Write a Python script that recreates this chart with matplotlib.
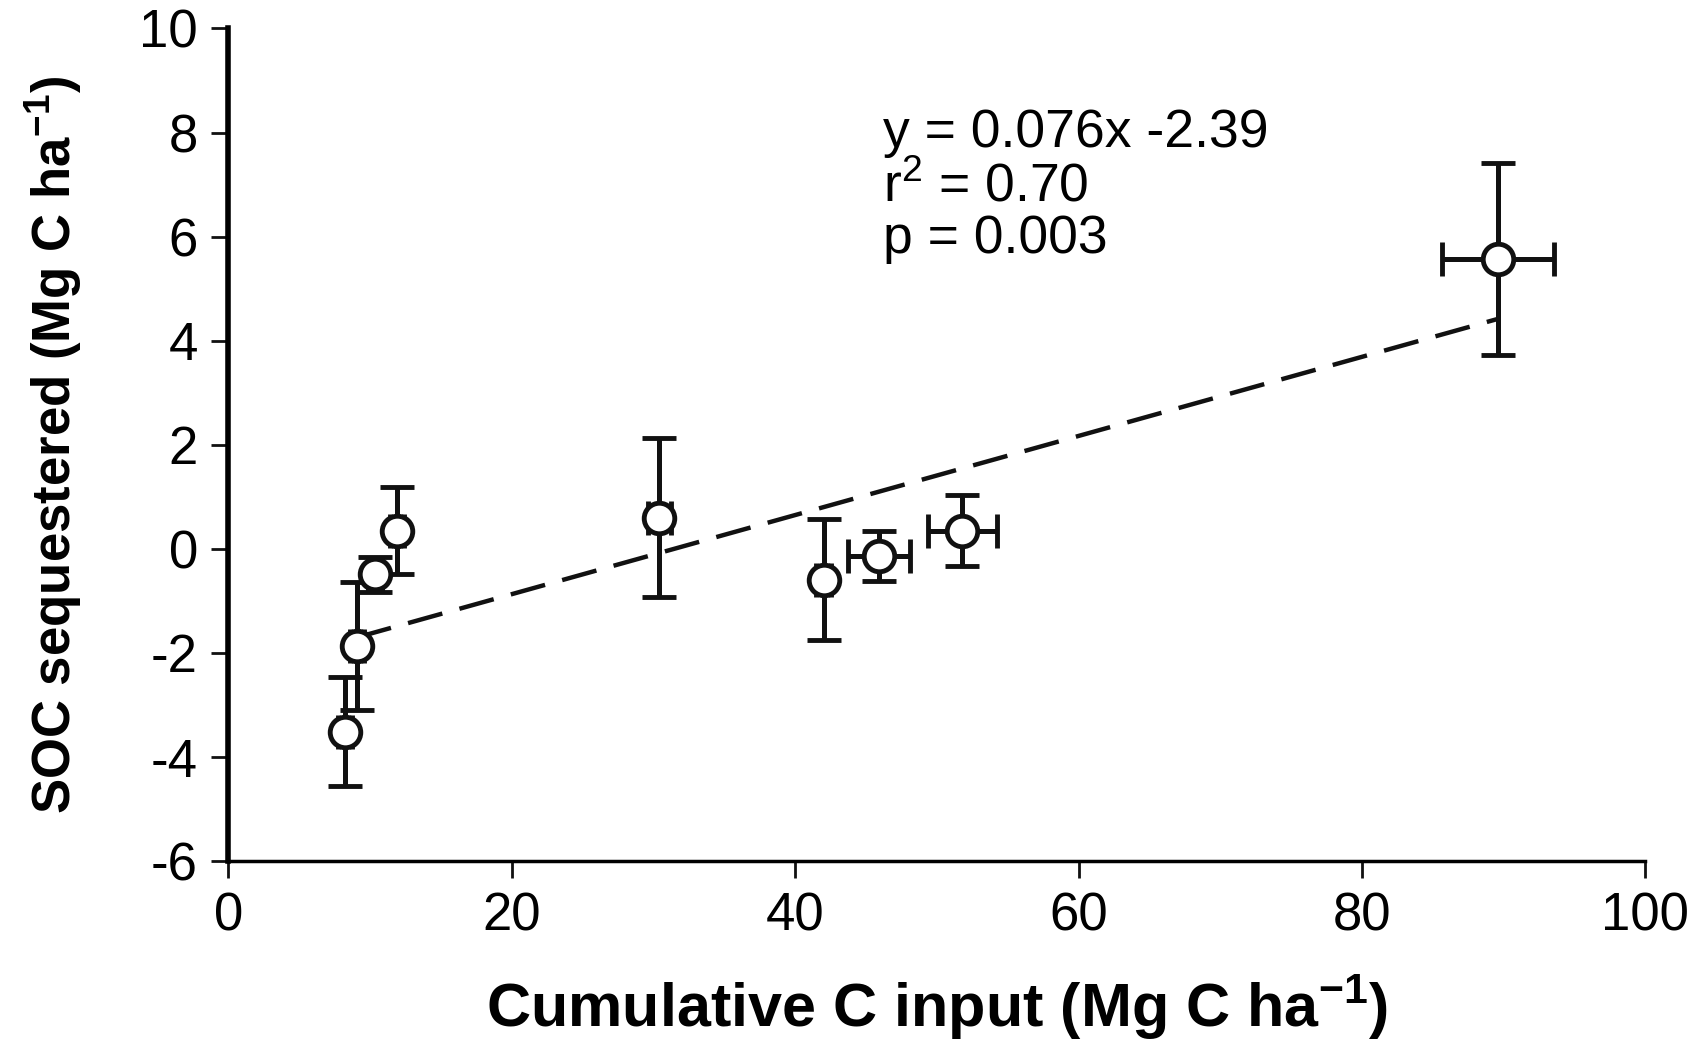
import matplotlib.pyplot as plt
import numpy as np

plt.rcParams['font.family'] = ['Liberation Sans', 'DejaVu Sans']
plt.rcParams['mathtext.fontset'] = 'custom'
plt.rcParams['mathtext.rm'] = 'Liberation Sans'
plt.rcParams['mathtext.bf'] = 'Liberation Sans:bold'

# cumulative C input and SOC sequestered (Mg C ha-1)
c_input = [8.2, 9.05, 10.35, 11.9, 30.4, 42.0, 45.9, 51.8, 89.6]
soc = [-3.51, -1.86, -0.49, 0.35, 0.60, -0.59, -0.13, 0.35, 5.57]
soc_err = [1.05, 1.23, 0.33, 0.83, 1.53, 1.16, 0.48, 0.68, 1.84]
c_err = [0.5, 0.5, 0.5, 0.5, 0.8, 0.5, 2.2, 2.45, 3.95]

slope, intercept = 0.076, -2.39
fit_x = [9.05, 89.6]

fig = plt.figure(figsize=(17.05, 10.54), dpi=100)
ax = fig.add_axes([0.134, 0.183, 0.831, 0.790])

fx = np.array(fit_x)
ax.plot(fx, slope * fx + intercept, color='#111111', lw=3.2, ls=(0, (8, 4)), zorder=2)

ax.errorbar(c_input, soc, yerr=soc_err, xerr=c_err, fmt='o', ms=22,
            mfc='white', mec='#111111', mew=3.5, ecolor='#111111',
            elinewidth=3.6, capsize=12.5, capthick=3.6, zorder=3)

ax.text(46.2, 8.0, "y = 0.076x -2.39", fontsize=38.5, va='center')
ax.text(46.2, 6.95, "r$^2$ = 0.70", fontsize=38.5, va='center')
ax.text(46.2, 5.95, "p = 0.003", fontsize=38.5, va='center')

ax.set_xlim(0, 100)
ax.set_ylim(-6, 10)
ax.set_xticks(np.arange(0, 101, 20))
ax.set_yticks(np.arange(-6, 11, 2))
ax.set_yticklabels([str(v) for v in range(-6, 11, 2)])
ax.tick_params(direction='out', length=12, width=2, labelsize=38, pad=10, color='#111111')
for s in ('top', 'right'):
    ax.spines[s].set_visible(False)
ax.spines['left'].set_linewidth(4)
ax.spines['bottom'].set_linewidth(2.5)

ax.set_xlabel(r"Cumulative C input (Mg C ha$^{\mathbf{-1}}$)", fontsize=44,
              fontweight='bold', labelpad=22)
ax.set_ylabel(r"SOC sequestered (Mg C ha$^{\mathbf{-1}}$)", fontsize=38,
              fontweight='bold', labelpad=40)

fig.savefig("out.png", dpi=100)
